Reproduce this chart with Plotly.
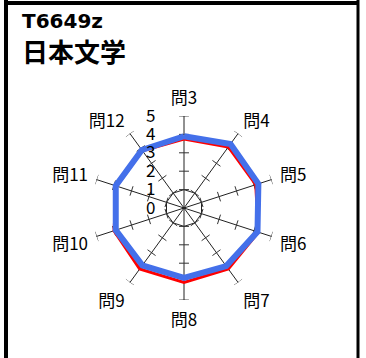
import math
import plotly.graph_objects as go

# data
questions = ["問3", "問4", "問5", "問6", "問7", "問8", "問9", "問10", "問11", "問12"]
red_vals = [3.75, 4.1, 4.1, 4.25, 4.1, 4.05, 4.1, 4.0, 3.85, 3.85]
blue_vals = [3.9, 4.3, 4.25, 4.2, 3.9, 3.8, 3.85, 3.9, 3.9, 3.9]
radial_ticks = [0, 1, 2, 3, 4, 5]

title_code = "T6649z"
title_subject = "日本文学"

step = 360 / len(questions)
angles = [i * step for i in range(len(questions))]
rmax = radial_ticks[-1]

# small cross ticks on every spoke
half = 0.27
tick_r, tick_t = [], []
for a in angles:
    for v in radial_ticks[1:]:
        d = math.degrees(math.atan(half / v))
        rr = math.hypot(v, half)
        tick_r += [rr, rr, None]
        tick_t += [a - d, a + d, None]

fig = go.Figure()
# inner decagon at 1
fig.add_trace(go.Scatterpolar(
    r=[radial_ticks[1]] * (len(angles) + 1), theta=angles + angles[:1], mode="lines",
    line=dict(color="#222222", width=1), hoverinfo="skip"
))
fig.add_trace(go.Scatterpolar(
    r=tick_r, theta=tick_t, mode="lines",
    line=dict(color="#333333", width=1),
    hoverinfo="skip", connectgaps=False
))
fig.add_trace(go.Scatterpolar(
    r=red_vals + red_vals[:1], theta=angles + angles[:1], mode="lines",
    line=dict(color="#ff0000", width=3), hoverinfo="skip"
))
fig.add_trace(go.Scatterpolar(
    r=blue_vals + blue_vals[:1], theta=angles + angles[:1], mode="lines",
    line=dict(color="#4470ea", width=6), hoverinfo="skip"
))

cx, cy, rad = 184, 150, 92
fig.update_layout(
    width=366, height=358,
    margin=dict(l=0, r=0, t=0, b=0),
    paper_bgcolor="white",
    showlegend=False,
    font=dict(family="Noto Sans CJK JP", color="black"),
    polar=dict(
        domain=dict(x=[(cx - rad) / 366, (cx + rad) / 366],
                    y=[(cy - rad) / 358, (cy + rad) / 358]),
        bgcolor="white",
        gridshape="linear",
        radialaxis=dict(range=[0, rmax], angle=90, side="counterclockwise",
                        tickvals=radial_ticks, tickangle=90,
                        ticks="outside", ticklen=22, tickcolor="rgba(0,0,0,0)",
                        showline=False, showgrid=False, layer="above traces",
                        tickfont=dict(size=17, color="black")),
        angularaxis=dict(rotation=90, direction="clockwise", tickvals=angles,
                         ticktext=questions, ticks="outside", ticklen=5,
                         tickcolor="rgba(0,0,0,0)", showline=False,
                         gridcolor="#222222", gridwidth=1,
                         tickfont=dict(size=17, color="black")),
    ),
    annotations=[
        dict(text="<b>" + title_code + "</b>", x=20 / 366, y=1 - 21 / 358,
             xref="paper", yref="paper", xanchor="left", yanchor="middle",
             showarrow=False, font=dict(size=20, color="black", family="DejaVu Sans")),
        dict(text="<b>" + title_subject + "</b>", x=20 / 366, y=1 - 51 / 358,
             xref="paper", yref="paper", xanchor="left", yanchor="middle",
             showarrow=False, font=dict(size=26, color="black")),
    ],
    shapes=[
        dict(type="line", xref="paper", yref="paper", x0=6 / 366, x1=6 / 366, y0=0, y1=1,
             line=dict(color="black", width=4)),
        dict(type="line", xref="paper", yref="paper", x0=6 / 366, x1=358 / 366,
             y0=1 - 3 / 358, y1=1 - 3 / 358, line=dict(color="black", width=4)),
        dict(type="line", xref="paper", yref="paper", x0=358 / 366, x1=358 / 366, y0=0, y1=1,
             line=dict(color="black", width=3)),
    ],
)

fig.write_html("out.html", config={"displayModeBar": False},
               post_script="document.body.style.margin='0';document.body.style.overflow='hidden';")
